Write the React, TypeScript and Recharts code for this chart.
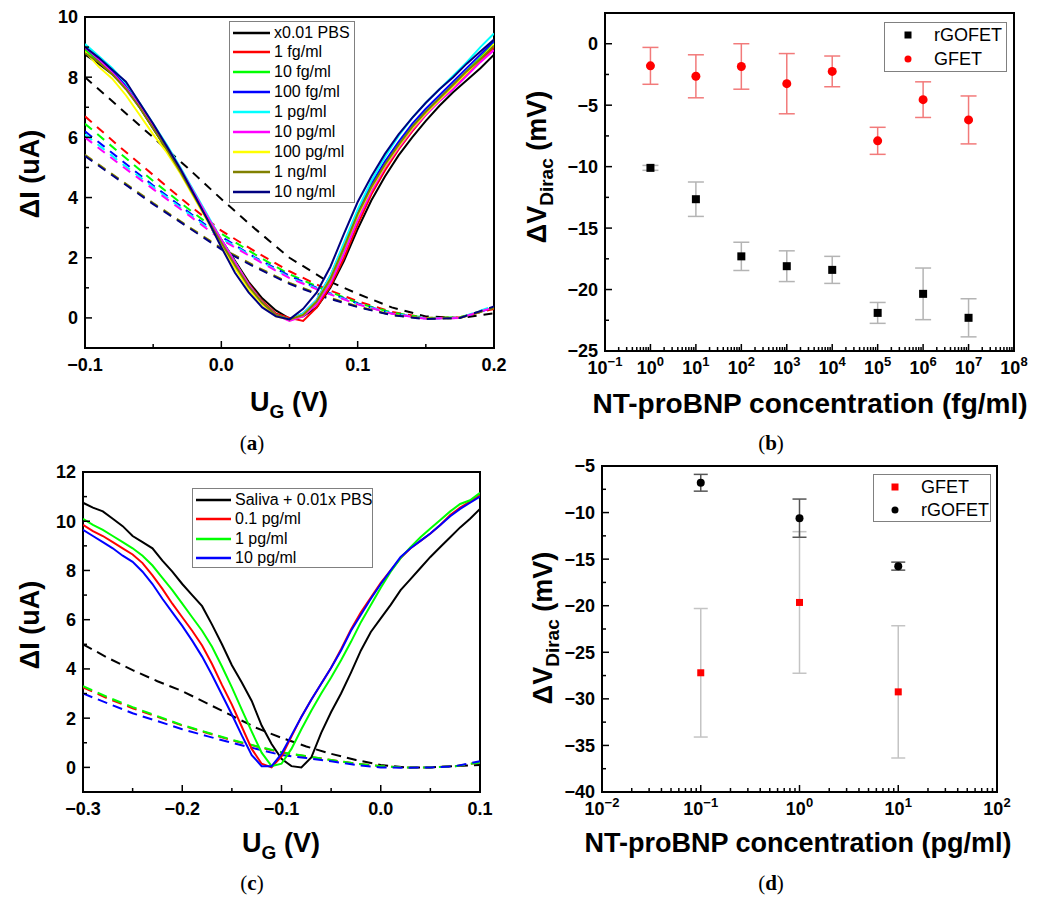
import React from 'react';
import { ComposedChart, Line, Scatter, XAxis, YAxis, ErrorBar, ReferenceArea, Legend } from 'recharts';

const FONT = "'Liberation Sans', Arial, Helvetica, sans-serif";
const SERIF = "'Liberation Serif', 'DejaVu Serif', serif";

// ---------------- Panel (a) ----------------
const A_X = [-0.1, -0.09, -0.08, -0.07, -0.06, -0.05, -0.04, -0.03, -0.02, -0.01, 0, 0.01, 0.02, 0.03, 0.04, 0.05, 0.06, 0.07, 0.08, 0.09, 0.1, 0.11, 0.12, 0.13, 0.14, 0.15, 0.16, 0.17, 0.18, 0.19, 0.2];
const A_XD = [-0.1, -0.075, -0.05, -0.025, 0, 0.025, 0.05, 0.075, 0.1, 0.125, 0.15, 0.175, 0.2];
const A_NAMES = ['x0.01 PBS', '1 fg/ml', '10 fg/ml', '100 fg/ml', '1 pg/ml', '10 pg/ml', '100 pg/ml', '1 ng/ml', '10 ng/ml'];
const A_COLORS = ['#000000', '#ff0000', '#00ff00', '#0000ff', '#00ffff', '#ff00ff', '#ffff00', '#808000', '#000080'];

const A_PBS = [8.75, 8.45, 8.1, 7.65, 7.0, 6.3, 5.6, 4.85, 4.05, 3.3, 2.6, 1.9, 1.2, 0.65, 0.25, -0.02, 0.05, 0.35, 1.0, 1.9, 2.95, 3.9, 4.7, 5.4, 6.0, 6.55, 7.05, 7.5, 7.9, 8.3, 8.75];
const A_1FG = [8.95, 8.55, 8.15, 7.65, 7.05, 6.4, 5.7, 4.95, 4.15, 3.35, 2.6, 1.85, 1.15, 0.55, 0.15, 0.0, -0.1, 0.35, 1.05, 2.0, 3.1, 4.1, 4.9, 5.6, 6.2, 6.75, 7.25, 7.7, 8.1, 8.55, 9.0];
const A_10FG = [8.9, 8.55, 8.15, 7.7, 7.05, 6.4, 5.7, 4.95, 4.15, 3.35, 2.6, 1.85, 1.1, 0.5, 0.1, -0.05, 0.1, 0.5, 1.25, 2.3, 3.4, 4.35, 5.1, 5.75, 6.35, 6.85, 7.3, 7.75, 8.2, 8.65, 9.15];
const A_100FG = [9.0, 8.6, 8.2, 7.7, 7.05, 6.35, 5.65, 4.9, 4.1, 3.3, 2.55, 1.8, 1.1, 0.5, 0.1, -0.05, 0.15, 0.6, 1.4, 2.45, 3.55, 4.45, 5.2, 5.85, 6.45, 6.95, 7.4, 7.85, 8.3, 8.75, 9.2];
const A_1PG = [9.1, 8.7, 8.3, 7.8, 7.15, 6.45, 5.75, 5.0, 4.2, 3.4, 2.6, 1.85, 1.1, 0.5, 0.1, -0.05, 0.15, 0.6, 1.4, 2.5, 3.6, 4.55, 5.35, 6.05, 6.65, 7.15, 7.6, 8.05, 8.5, 9.0, 9.45];
const A_10PG = [9.0, 8.6, 8.15, 7.65, 7.05, 6.4, 5.7, 4.95, 4.15, 3.35, 2.6, 1.85, 1.1, 0.5, 0.1, -0.1, 0.05, 0.45, 1.15, 2.15, 3.25, 4.2, 5.0, 5.65, 6.25, 6.75, 7.2, 7.6, 8.05, 8.5, 8.9];
const A_100PG = [8.85, 8.35, 7.95, 7.4, 6.75, 6.1, 5.5, 4.8, 4.0, 3.2, 2.4, 1.65, 0.95, 0.45, 0.05, -0.05, 0.1, 0.55, 1.3, 2.35, 3.4, 4.3, 5.05, 5.7, 6.3, 6.8, 7.25, 7.7, 8.15, 8.6, 9.1];
const A_1NG = [8.8, 8.5, 8.1, 7.6, 7.0, 6.3, 5.6, 4.85, 4.05, 3.25, 2.5, 1.75, 1.05, 0.5, 0.1, -0.05, 0.1, 0.55, 1.3, 2.35, 3.45, 4.35, 5.1, 5.75, 6.35, 6.85, 7.3, 7.75, 8.2, 8.6, 9.05];
const A_10NG = [9.0, 8.65, 8.25, 7.85, 7.15, 6.45, 5.7, 4.95, 4.1, 3.25, 2.35, 1.5, 0.85, 0.35, 0.05, -0.05, 0.3, 0.85, 1.7, 2.8, 3.85, 4.7, 5.45, 6.1, 6.65, 7.15, 7.6, 8.0, 8.45, 8.85, 9.25];
const A_SOLID = [A_PBS, A_1FG, A_10FG, A_100FG, A_1PG, A_10PG, A_100PG, A_1NG, A_10NG];

const A_PBS_D = [8.0, 7.0, 6.0, 5.0, 3.95, 2.95, 2.0, 1.3, 0.8, 0.35, 0.05, 0.0, 0.15];
const A_1FG_D = [6.7, 5.7, 4.75, 3.8, 2.9, 2.2, 1.55, 1.0, 0.55, 0.2, 0.0, 0.02, 0.3];
const A_10FG_D = [6.45, 5.5, 4.55, 3.65, 2.8, 2.1, 1.45, 0.95, 0.5, 0.18, 0.0, 0.02, 0.35];
const A_100FG_D = [6.2, 5.3, 4.4, 3.55, 2.7, 2.0, 1.4, 0.9, 0.48, 0.15, -0.02, 0.0, 0.35];
const A_1PG_D = [6.1, 5.2, 4.35, 3.5, 2.65, 1.98, 1.35, 0.88, 0.46, 0.15, -0.02, 0.0, 0.4];
const A_10PG_D = [6.0, 5.12, 4.28, 3.45, 2.6, 1.95, 1.32, 0.86, 0.45, 0.14, -0.03, 0.0, 0.35];
const A_100PG_D = [5.4, 4.6, 3.8, 3.05, 2.3, 1.7, 1.15, 0.72, 0.38, 0.1, -0.03, 0.0, 0.35];
const A_1NG_D = [5.42, 4.62, 3.82, 3.06, 2.32, 1.72, 1.16, 0.73, 0.38, 0.1, -0.03, 0.0, 0.33];
const A_10NG_D = [5.38, 4.58, 3.78, 3.03, 2.28, 1.68, 1.13, 0.7, 0.36, 0.09, -0.04, 0.0, 0.38];
const A_DASHED = [A_PBS_D, A_1FG_D, A_10FG_D, A_100FG_D, A_1PG_D, A_10PG_D, A_100PG_D, A_1NG_D, A_10NG_D];

const A_X_MAJOR = [-0.1, 0, 0.1, 0.2];
const A_X_LABELS = ['\u22120.1', '0.0', '0.1', '0.2'];
const A_X_MINOR = [-0.05, 0.05, 0.15];
const A_Y_MAJOR = [0, 2, 4, 6, 8, 10];
const A_Y_LABELS = ['0', '2', '4', '6', '8', '10'];
const A_Y_MINOR = [1, 3, 5, 7, 9];

// ---------------- Panel (b) ----------------
const B_CONC = [1, 10, 100, 1000, 10000, 100000, 1000000, 10000000];
const B_RGO = [-10.1, -12.65, -17.3, -18.1, -18.4, -21.9, -20.35, -22.3];
const B_RGO_ERR = [0.2, 1.4, 1.15, 1.25, 1.1, 0.85, 2.1, 1.55];
const B_GFET = [-1.8, -2.65, -1.85, -3.25, -2.25, -7.9, -4.55, -6.2];
const B_GFET_ERR = [1.5, 1.75, 1.85, 2.45, 1.25, 1.1, 1.45, 1.95];
const B_X_EXP = [-1, 0, 1, 2, 3, 4, 5, 6, 7, 8];
const B_Y_MAJOR = [-25, -20, -15, -10, -5, 0];
const B_Y_LABELS = ['\u221225', '\u221220', '\u221215', '\u221210', '\u22125', '0'];
const B_Y_MINOR = [-22.5, -17.5, -12.5, -7.5, -2.5];

// ---------------- Panel (c) ----------------
const C_X = [-0.3, -0.29, -0.28, -0.27, -0.26, -0.25, -0.24, -0.23, -0.22, -0.21, -0.2, -0.19, -0.18, -0.17, -0.16, -0.15, -0.14, -0.13, -0.12, -0.11, -0.1, -0.09, -0.08, -0.07, -0.06, -0.05, -0.04, -0.03, -0.02, -0.01, 0, 0.01, 0.02, 0.03, 0.04, 0.05, 0.06, 0.07, 0.08, 0.09, 0.1];
const C_XD = [-0.3, -0.275, -0.25, -0.225, -0.2, -0.175, -0.15, -0.125, -0.1, -0.075, -0.05, -0.025, 0, 0.025, 0.05, 0.075, 0.1];
const C_NAMES = ['Saliva + 0.01x PBS', '0.1 pg/ml', '1 pg/ml', '10 pg/ml'];
const C_COLORS = ['#000000', '#ff0000', '#00ff00', '#0000ff'];
const C_SALIVA = [10.75, 10.55, 10.4, 10.1, 9.8, 9.4, 9.15, 8.9, 8.4, 7.95, 7.45, 7.0, 6.55, 5.8, 5.0, 4.15, 3.45, 2.7, 1.7, 0.95, 0.35, 0.05, 0.0, 0.4, 1.4, 2.25, 3.0, 3.85, 4.75, 5.5, 6.05, 6.6, 7.2, 7.65, 8.1, 8.55, 8.95, 9.35, 9.75, 10.1, 10.5];
const C_01PG = [9.85, 9.6, 9.4, 9.15, 8.9, 8.65, 8.3, 7.8, 7.25, 6.65, 6.1, 5.55, 4.95, 4.2, 3.35, 2.55, 1.65, 0.75, 0.15, 0.0, 0.45, 1.25, 2.05, 2.75, 3.4, 4.05, 4.8, 5.6, 6.3, 6.9, 7.5, 8.0, 8.5, 8.9, 9.2, 9.5, 9.85, 10.25, 10.55, 10.8, 11.05];
const C_1PG = [10.1, 9.85, 9.65, 9.4, 9.15, 8.9, 8.6, 8.2, 7.7, 7.2, 6.65, 6.1, 5.55, 4.9, 4.1, 3.25, 2.35, 1.45, 0.6, 0.05, 0.15, 0.75, 1.55, 2.3, 3.0, 3.65, 4.35, 5.1, 5.9, 6.6, 7.3, 7.95, 8.5, 8.95, 9.35, 9.7, 10.05, 10.4, 10.7, 10.85, 11.15];
const C_10PG = [9.65, 9.4, 9.15, 8.9, 8.6, 8.35, 7.95, 7.45, 6.85, 6.3, 5.75, 5.15, 4.5, 3.75, 2.95, 2.15, 1.3, 0.5, 0.05, 0.05, 0.55, 1.3, 2.05, 2.75, 3.4, 4.05, 4.75, 5.55, 6.2, 6.85, 7.45, 8.0, 8.55, 8.9, 9.2, 9.5, 9.85, 10.2, 10.5, 10.75, 11.0];
const C_SOLID = [C_SALIVA, C_01PG, C_1PG, C_10PG];
const C_SALIVA_D = [5.0, 4.45, 3.95, 3.5, 3.1, 2.6, 2.1, 1.6, 1.2, 0.85, 0.55, 0.3, 0.1, 0.0, 0.0, 0.05, 0.1];
const C_01PG_D = [3.25, 2.8, 2.4, 2.05, 1.7, 1.4, 1.1, 0.85, 0.6, 0.45, 0.3, 0.15, 0.05, 0.0, 0.0, 0.05, 0.2];
const C_1PG_D = [3.3, 2.85, 2.45, 2.08, 1.72, 1.42, 1.12, 0.86, 0.62, 0.46, 0.3, 0.15, 0.05, 0.0, 0.0, 0.05, 0.2];
const C_10PG_D = [3.0, 2.6, 2.2, 1.88, 1.55, 1.27, 1.0, 0.75, 0.5, 0.38, 0.25, 0.1, 0.0, -0.02, 0.0, 0.05, 0.25];
const C_DASHED = [C_SALIVA_D, C_01PG_D, C_1PG_D, C_10PG_D];
const C_X_MAJOR = [-0.3, -0.2, -0.1, 0, 0.1];
const C_X_LABELS = ['\u22120.3', '\u22120.2', '\u22120.1', '0.0', '0.1'];
const C_X_MINOR = [-0.25, -0.15, -0.05, 0.05];
const C_Y_MAJOR = [0, 2, 4, 6, 8, 10, 12];
const C_Y_LABELS = ['0', '2', '4', '6', '8', '10', '12'];
const C_Y_MINOR = [1, 3, 5, 7, 9, 11];

// ---------------- Panel (d) ----------------
const D_CONC = [0.1, 1, 10];
const D_GFET = [-27.2, -19.65, -29.25];
const D_GFET_ERR = [6.9, 7.6, 7.1];
const D_RGO = [-6.8, -10.6, -15.75];
const D_RGO_ERR = [0.9, 2.05, 0.43];
const D_X_EXP = [-2, -1, 0, 1, 2];
const D_Y_MAJOR = [-40, -35, -30, -25, -20, -15, -10, -5];
const D_Y_LABELS = ['\u221240', '\u221235', '\u221230', '\u221225', '\u221220', '\u221215', '\u221210', '\u22125'];
const D_Y_MINOR = [-37.5, -32.5, -27.5, -22.5, -17.5, -12.5, -7.5];

const MINOR_MULT = [2, 3, 4, 5, 6, 7, 8, 9];

// ---------------- helpers ----------------
const toXY = (xs: number[], ys: number[]) => ys.map((y, i) => ({ x: xs[i], y }));
const toXYE = (xs: number[], ys: number[], es: number[]) => ys.map((y, i) => ({ x: xs[i], y, e: es[i] }));
const exp10 = (k: number) => Math.pow(10, k);
const fmtExp = (k: number) => (k < 0 ? '\u2212' + Math.abs(k) : String(k));
const logTicks = (exps: number[]) => {
  const majors = exps.map(exp10);
  const minors: number[] = [];
  exps.slice(0, -1).forEach((k) => MINOR_MULT.forEach((m) => minors.push(m * exp10(k))));
  return { majors, all: [...majors, ...minors] };
};
const same = (a: number, b: number) => Math.abs(a - b) < 1e-9 * Math.max(1, Math.abs(a));
const TICK_FS = 18;

const linXTick = (majors: number[], labels: string[]) => (props: any) => {
  const { x, y, payload } = props;
  const i = majors.findIndex((m) => same(m, payload.value));
  return (
    <g>
      <line x1={x} x2={x} y1={y} y2={y - (i >= 0 ? 7 : 4)} stroke="#000" strokeWidth={1.5} />
      {i >= 0 && (
        <text x={x} y={y + 23} textAnchor="middle" fontFamily={FONT} fontWeight="bold" fontSize={TICK_FS} fill="#000">
          {labels[i]}
        </text>
      )}
    </g>
  );
};

const logXTick = (exps: number[]) => (props: any) => {
  const { x, y, payload } = props;
  const i = exps.findIndex((k) => same(exp10(k), payload.value));
  return (
    <g>
      <line x1={x} x2={x} y1={y} y2={y - (i >= 0 ? 7 : 4)} stroke="#000" strokeWidth={1.5} />
      {i >= 0 && (
        <text x={x} y={y + 23} textAnchor="middle" fontFamily={FONT} fontWeight="bold" fontSize={TICK_FS} fill="#000">
          10
          <tspan dy={-8} fontSize={13}>
            {fmtExp(exps[i])}
          </tspan>
        </text>
      )}
    </g>
  );
};

const linYTick = (majors: number[], labels: string[]) => (props: any) => {
  const { x, y, payload } = props;
  const i = majors.findIndex((m) => same(m, payload.value));
  return (
    <g>
      <line x1={x} x2={x + (i >= 0 ? 7 : 4)} y1={y} y2={y} stroke="#000" strokeWidth={1.5} />
      {i >= 0 && (
        <text x={x - 7} y={y} dy="0.36em" textAnchor="end" fontFamily={FONT} fontWeight="bold" fontSize={TICK_FS} fill="#000">
          {labels[i]}
        </text>
      )}
    </g>
  );
};

const squareShape = (side: number, color: string) => (props: any) => (
  <rect x={props.cx - side / 2} y={props.cy - side / 2} width={side} height={side} fill={color} />
);
const circleShape = (r: number, color: string) => (props: any) => <circle cx={props.cx} cy={props.cy} r={r} fill={color} />;

function LegendBox(props: any) {
  const { payload, order, w, h, rowTop, rowH, sampleX, sampleW, textX, fontSize, markerSize } = props;
  const items = [...(payload || [])]
    .filter((p: any) => order.includes(p.value))
    .sort((a: any, b: any) => order.indexOf(a.value) - order.indexOf(b.value));
  return (
    <div
      style={{
        width: w,
        height: h,
        border: '1px solid #808080',
        boxSizing: 'border-box',
        background: '#fff',
        position: 'relative',
        fontFamily: FONT,
        fontSize,
        color: '#000',
      }}
    >
      {items.map((p: any, i: number) => {
        const cy = rowTop + i * rowH;
        const col = p.payload?.fill && p.type !== 'line' ? p.payload.fill : p.color;
        return (
          <React.Fragment key={p.value}>
            <svg style={{ position: 'absolute', left: 0, top: cy - 8 }} width={textX} height={16}>
              {p.type === 'square' ? (
                <rect x={sampleX - markerSize / 2} y={8 - markerSize / 2} width={markerSize} height={markerSize} fill={col} />
              ) : p.type === 'circle' ? (
                <circle cx={sampleX} cy={8} r={markerSize / 2} fill={col} />
              ) : (
                <line x1={sampleX} x2={sampleX + sampleW} y1={8} y2={8} stroke={col} strokeWidth={2.5} />
              )}
            </svg>
            <span
              style={{
                position: 'absolute',
                left: textX,
                top: cy,
                transform: 'translateY(-52%)',
                whiteSpace: 'nowrap',
                lineHeight: 1,
              }}
            >
              {p.value}
            </span>
          </React.Fragment>
        );
      })}
    </div>
  );
}

// axis common props (1px axis boxes so the ticks are rendered; margins compensate)
const xAxisCommon = {
  type: 'number' as const,
  dataKey: 'x',
  allowDataOverflow: true,
  height: 1,
  tickSize: 0,
  tickMargin: 0,
  axisLine: false,
  tickLine: false,
  interval: 0 as const,
};
const yAxisCommon = {
  type: 'number' as const,
  allowDataOverflow: true,
  width: 1,
  tickSize: 0,
  tickMargin: 0,
  axisLine: false,
  tickLine: false,
  interval: 0 as const,
};

// ---------------- panels ----------------
function PanelA() {
  return (
    <ComposedChart width={520} height={440} margin={{ top: 17, right: 26, bottom: 91, left: 84 }}>
      <XAxis {...xAxisCommon} domain={[-0.1, 0.2]} ticks={[...A_X_MAJOR, ...A_X_MINOR]} tick={linXTick(A_X_MAJOR, A_X_LABELS)} />
      <YAxis {...yAxisCommon} domain={[-1, 10]} ticks={[...A_Y_MAJOR, ...A_Y_MINOR]} tick={linYTick(A_Y_MAJOR, A_Y_LABELS)} />
      {A_DASHED.map((ys, i) => (
        <Line
          key={'ad' + i}
          data={toXY(A_XD, ys)}
          dataKey="y"
          stroke={A_COLORS[i]}
          strokeWidth={2}
          strokeDasharray="9 7"
          dot={false}
          legendType="none"
          isAnimationActive={false}
        />
      ))}
      {A_SOLID.map((ys, i) => (
        <Line
          key={'as' + i}
          name={A_NAMES[i]}
          data={toXY(A_X, ys)}
          dataKey="y"
          stroke={A_COLORS[i]}
          strokeWidth={2}
          dot={false}
          isAnimationActive={false}
        />
      ))}
      <ReferenceArea x1={-0.1} x2={0.2} y1={-1} y2={10} fill="none" stroke="#000" strokeWidth={2} ifOverflow="visible" />
      <Legend
        layout="vertical"
        align="center"
        verticalAlign="middle"
        wrapperStyle={{ left: 229, top: 21, width: 'auto', height: 'auto' }}
        content={(p: any) => (
          <LegendBox payload={p.payload} order={A_NAMES} w={126} h={182} rowTop={10.5} rowH={19.9} sampleX={3} sampleW={37} textX={44} fontSize={16} markerSize={0} />
        )}
      />
    </ComposedChart>
  );
}

function PanelB() {
  const t = logTicks(B_X_EXP);
  return (
    <ComposedChart width={534} height={440} margin={{ top: 13, right: 40, bottom: 88, left: 84 }}>
      <XAxis {...xAxisCommon} scale="log" domain={[0.1, 100000000]} ticks={t.all} tick={logXTick(B_X_EXP)} />
      <YAxis {...yAxisCommon} dataKey="y" domain={[-25, 2.5]} ticks={[...B_Y_MAJOR, ...B_Y_MINOR]} tick={linYTick(B_Y_MAJOR, B_Y_LABELS)} />
      <Scatter name="rGOFET" data={toXYE(B_CONC, B_RGO, B_RGO_ERR)} fill="#000000" legendType="square" shape={squareShape(8, '#000000')} isAnimationActive={false}>
        <ErrorBar dataKey="e" direction="y" width={8} stroke="#b4b4b4" strokeWidth={1.5} />
      </Scatter>
      <Scatter name="GFET" data={toXYE(B_CONC, B_GFET, B_GFET_ERR)} fill="#ff0000" legendType="circle" shape={circleShape(4.5, '#ff0000')} isAnimationActive={false}>
        <ErrorBar dataKey="e" direction="y" width={8} stroke="#f27a7a" strokeWidth={1.5} />
      </Scatter>
      <ReferenceArea x1={0.1} x2={100000000} y1={-25} y2={2.5} fill="none" stroke="#000" strokeWidth={2} ifOverflow="visible" />
      <Legend
        layout="vertical"
        align="center"
        verticalAlign="middle"
        wrapperStyle={{ left: 364, top: 22, width: 'auto', height: 'auto' }}
        content={(p: any) => (
          <LegendBox payload={p.payload} order={['rGOFET', 'GFET']} w={123} h={50} rowTop={12} rowH={24} sampleX={23} sampleW={0} textX={49} fontSize={18} markerSize={7} />
        )}
      />
    </ComposedChart>
  );
}

function PanelC() {
  return (
    <ComposedChart width={520} height={440} margin={{ top: 32, right: 40, bottom: 87, left: 82 }}>
      <XAxis {...xAxisCommon} domain={[-0.3, 0.1]} ticks={[...C_X_MAJOR, ...C_X_MINOR]} tick={linXTick(C_X_MAJOR, C_X_LABELS)} />
      <YAxis {...yAxisCommon} domain={[-1, 12]} ticks={[...C_Y_MAJOR, ...C_Y_MINOR]} tick={linYTick(C_Y_MAJOR, C_Y_LABELS)} />
      {C_DASHED.map((ys, i) => (
        <Line
          key={'cd' + i}
          data={toXY(C_XD, ys)}
          dataKey="y"
          stroke={C_COLORS[i]}
          strokeWidth={2}
          strokeDasharray="10 6"
          dot={false}
          legendType="none"
          isAnimationActive={false}
        />
      ))}
      {C_SOLID.map((ys, i) => (
        <Line
          key={'cs' + i}
          name={C_NAMES[i]}
          data={toXY(C_X, ys)}
          dataKey="y"
          stroke={C_COLORS[i]}
          strokeWidth={2}
          dot={false}
          isAnimationActive={false}
        />
      ))}
      <ReferenceArea x1={-0.3} x2={0.1} y1={-1} y2={12} fill="none" stroke="#000" strokeWidth={2} ifOverflow="visible" />
      <Legend
        layout="vertical"
        align="center"
        verticalAlign="middle"
        wrapperStyle={{ left: 192, top: 48, width: 'auto', height: 'auto' }}
        content={(p: any) => (
          <LegendBox payload={p.payload} order={C_NAMES} w={181} h={80} rowTop={10.5} rowH={19.5} sampleX={3} sampleW={35} textX={42} fontSize={16} markerSize={0} />
        )}
      />
    </ComposedChart>
  );
}

function PanelD() {
  const t = logTicks(D_X_EXP);
  return (
    <ComposedChart width={534} height={440} margin={{ top: 26, right: 57, bottom: 87, left: 81 }}>
      <XAxis {...xAxisCommon} scale="log" domain={[0.01, 100]} ticks={t.all} tick={logXTick(D_X_EXP)} />
      <YAxis {...yAxisCommon} dataKey="y" domain={[-40, -5]} ticks={[...D_Y_MAJOR, ...D_Y_MINOR]} tick={linYTick(D_Y_MAJOR, D_Y_LABELS)} />
      <Scatter name="GFET" data={toXYE(D_CONC, D_GFET, D_GFET_ERR)} fill="#ff0000" legendType="square" shape={squareShape(7, '#ff0000')} isAnimationActive={false}>
        <ErrorBar dataKey="e" direction="y" width={7} stroke="#c4c4c4" strokeWidth={1.5} />
      </Scatter>
      <Scatter name="rGOFET" data={toXYE(D_CONC, D_RGO, D_RGO_ERR)} fill="#000000" legendType="circle" shape={circleShape(4, '#000000')} isAnimationActive={false}>
        <ErrorBar dataKey="e" direction="y" width={7} stroke="#555555" strokeWidth={1.5} />
      </Scatter>
      <ReferenceArea x1={0.01} x2={100} y1={-40} y2={-5} fill="none" stroke="#000" strokeWidth={2} ifOverflow="visible" />
      <Legend
        layout="vertical"
        align="center"
        verticalAlign="middle"
        wrapperStyle={{ left: 353, top: 34, width: 'auto', height: 'auto' }}
        content={(p: any) => (
          <LegendBox payload={p.payload} order={['GFET', 'rGOFET']} w={118} h={48} rowTop={12} rowH={23} sampleX={21} sampleW={0} textX={47} fontSize={18} markerSize={7} />
        )}
      />
    </ComposedChart>
  );
}

function Titles() {
  const bold = { fontFamily: FONT, fontWeight: 'bold' as const, fill: '#000' };
  return (
    <svg width={1054} height={898} style={{ position: 'absolute', left: 0, top: 0, pointerEvents: 'none' }}>
      {/* panel a */}
      <text transform="translate(39,174) rotate(-90)" textAnchor="middle" fontSize={27} {...bold}>
        ΔI (uA)
      </text>
      <text x={289} y={411} textAnchor="middle" fontSize={27} {...bold}>
        U<tspan dy={7} fontSize={19}>G</tspan>
        <tspan dy={-7}> (V)</tspan>
      </text>
      <text x={252} y={450} textAnchor="middle" fontFamily={SERIF} fontSize={21} fill="#000">
        (<tspan fontWeight="bold">a</tspan>)
      </text>
      {/* panel b */}
      <text transform="translate(546,167) rotate(-90)" textAnchor="middle" fontSize={27} {...bold}>
        ΔV<tspan dy={7} fontSize={19}>Dirac</tspan>
        <tspan dy={-7}> (mV)</tspan>
      </text>
      <text x={810} y={413} textAnchor="middle" fontSize={28} {...bold}>
        NT-proBNP concentration (fg/ml)
      </text>
      <text x={771} y={450} textAnchor="middle" fontFamily={SERIF} fontSize={21} fill="#000">
        (<tspan fontWeight="bold">b</tspan>)
      </text>
      {/* panel c */}
      <text transform="translate(39,625) rotate(-90)" textAnchor="middle" fontSize={27} {...bold}>
        ΔI (uA)
      </text>
      <text x={281} y={852} textAnchor="middle" fontSize={27} {...bold}>
        U<tspan dy={7} fontSize={19}>G</tspan>
        <tspan dy={-7}> (V)</tspan>
      </text>
      <text x={252} y={890} textAnchor="middle" fontFamily={SERIF} fontSize={21} fill="#000">
        (<tspan fontWeight="bold">c</tspan>)
      </text>
      {/* panel d */}
      <text transform="translate(552,628) rotate(-90)" textAnchor="middle" fontSize={27} {...bold}>
        ΔV<tspan dy={7} fontSize={19}>Dirac</tspan>
        <tspan dy={-7}> (mV)</tspan>
      </text>
      <text x={798} y={852} textAnchor="middle" fontSize={27} {...bold}>
        NT-proBNP concentration (pg/ml)
      </text>
      <text x={771} y={890} textAnchor="middle" fontFamily={SERIF} fontSize={21} fill="#000">
        (<tspan fontWeight="bold">d</tspan>)
      </text>
    </svg>
  );
}

export default function App() {
  return (
    <div style={{ position: 'absolute', left: 0, top: 0, width: 1054, height: 898, background: '#fff', overflow: 'hidden' }}>
      <div style={{ position: 'absolute', left: 0, top: 0 }}>
        <PanelA />
      </div>
      <div style={{ position: 'absolute', left: 520, top: 0 }}>
        <PanelB />
      </div>
      <div style={{ position: 'absolute', left: 0, top: 440 }}>
        <PanelC />
      </div>
      <div style={{ position: 'absolute', left: 520, top: 440 }}>
        <PanelD />
      </div>
      <Titles />
    </div>
  );
}
